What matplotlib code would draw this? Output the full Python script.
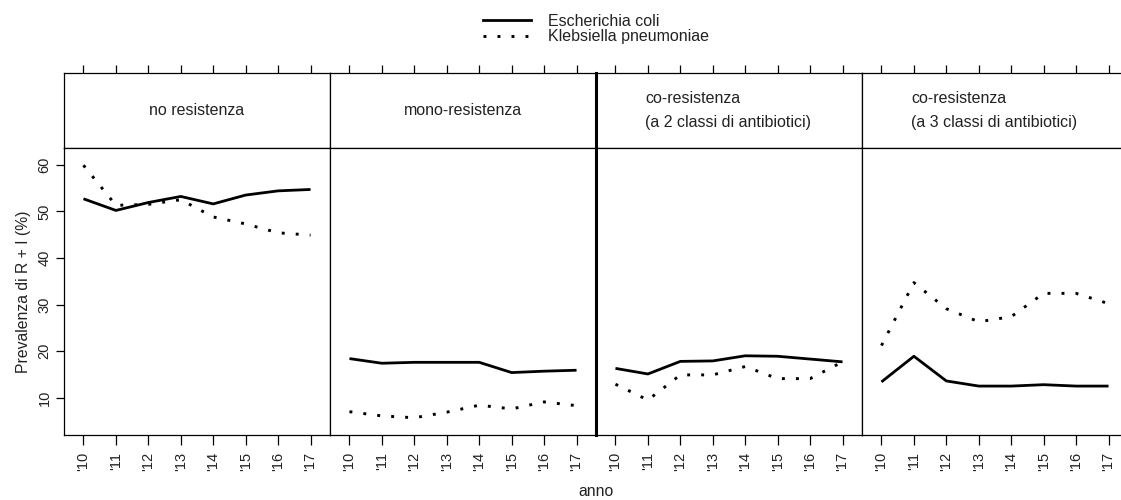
import matplotlib
matplotlib.use("Agg")
import matplotlib.pyplot as plt
from matplotlib.lines import Line2D

plt.rcParams['font.family'] = ['Liberation Sans', 'DejaVu Sans']

# dati
anni = [0, 1, 2, 3, 4, 5, 6, 7]
etichette_anni = ["'10", "'11", "'12", "'13", "'14", "'15", "'16", "'17"]
pannelli = ["no resistenza",
            "mono-resistenza",
            "co-resistenza\n(a 2 classi di antibiotici)",
            "co-resistenza\n(a 3 classi di antibiotici)"]

ecoli_no = [52.7, 50.2, 51.9, 53.2, 51.6, 53.5, 54.4, 54.7]
ecoli_mono = [18.4, 17.4, 17.6, 17.6, 17.6, 15.4, 15.7, 15.9]
ecoli_co2 = [16.3, 15.1, 17.8, 17.9, 19.0, 18.9, 18.3, 17.7]
ecoli_co3 = [13.4, 18.9, 13.6, 12.5, 12.5, 12.8, 12.5, 12.5]

kpn_no = [59.9, 51.3, 51.5, 52.5, 48.8, 47.3, 45.4, 44.9]
kpn_mono = [7.0, 6.1, 5.7, 6.9, 8.4, 7.6, 9.1, 8.3]
kpn_co2 = [12.9, 9.5, 14.9, 14.9, 16.7, 14.1, 14.1, 17.7]
kpn_co3 = [21.2, 34.7, 29.1, 26.3, 27.4, 32.4, 32.4, 30.2]

ecoli = [ecoli_no, ecoli_mono, ecoli_co2, ecoli_co3]
kpn = [kpn_no, kpn_mono, kpn_co2, kpn_co3]

W, H = 1121, 500
fig = plt.figure(figsize=(W / 100, H / 100), dpi=100)

x0, pw = 64, 266          # pixel: inizio e larghezza pannello
y_strip, y_top, y_bot = 73, 148, 435
stile_dot = (0, (1, 3.8))
testo = '#222222'
fs = 11.5

for i in range(4):
    left = (x0 + i * pw) / W
    # strip in alto
    st = fig.add_axes([left, 1 - y_top / H, pw / W, (y_top - y_strip) / H])
    st.set_xlim(-0.6, 7.6)
    st.set_ylim(0, 1)
    st.set_yticks([])
    st.xaxis.tick_top()
    st.set_xticks(anni)
    st.set_xticklabels([])
    st.tick_params(axis='x', direction='out', length=6, width=0.9)
    if i in (2, 3):
        st.text(49 / pw, 0.5, pannelli[i], transform=st.transAxes,
                ha='left', va='center', fontsize=fs, color=testo, linespacing=1.75)
    else:
        st.text(0.5, 0.5, pannelli[i], transform=st.transAxes,
                ha='center', va='center', fontsize=fs, color=testo)

    ax = fig.add_axes([left, 1 - y_bot / H, pw / W, (y_bot - y_top) / H])
    ax.plot(anni, ecoli[i], color='black', lw=2, solid_capstyle='butt')
    ax.plot(anni, kpn[i], color='black', lw=2.1, linestyle=stile_dot)
    ax.set_xlim(-0.6, 7.6)
    ax.set_ylim(2.0, 63.6)
    ax.set_xticks(anni)
    ax.set_xticklabels(etichette_anni, rotation=90, fontsize=10.5, color=testo)
    ax.tick_params(axis='x', direction='out', length=7, width=0.9, pad=5)
    if i == 0:
        ax.set_yticks([10, 20, 30, 40, 50, 60])
        ax.set_yticklabels(['10', '20', '30', '40', '50', '60'], rotation=90,
                           va='center', fontsize=10.5, color=testo)
        ax.tick_params(axis='y', direction='out', length=6, width=0.9, pad=3)
        ax.set_ylabel('Prevalenza di R + I (%)', fontsize=11.3, color=testo, labelpad=5)
    else:
        ax.set_yticks([])
    for a in (st, ax):
        for s in a.spines.values():
            s.set_linewidth(0.9)
    if i == 2:
        ax.spines['left'].set_linewidth(2.2)
        st.spines['left'].set_linewidth(2.2)

fig.text(596 / W, 1 - 491 / H, 'anno', ha='center', va='center', fontsize=11.3, color=testo)

handles = [Line2D([], [], color='black', lw=2),
           Line2D([], [], color='black', lw=2.1, linestyle=stile_dot)]
fig.legend(handles, ['Escherichia coli', 'Klebsiella pneumoniae'],
           loc='center', bbox_to_anchor=(596 / W, 1 - 29 / H), frameon=False,
           fontsize=fs, handlelength=3.0, labelspacing=0.05, handletextpad=1.1,
           labelcolor=testo)

fig.savefig('out.png', dpi=100)
